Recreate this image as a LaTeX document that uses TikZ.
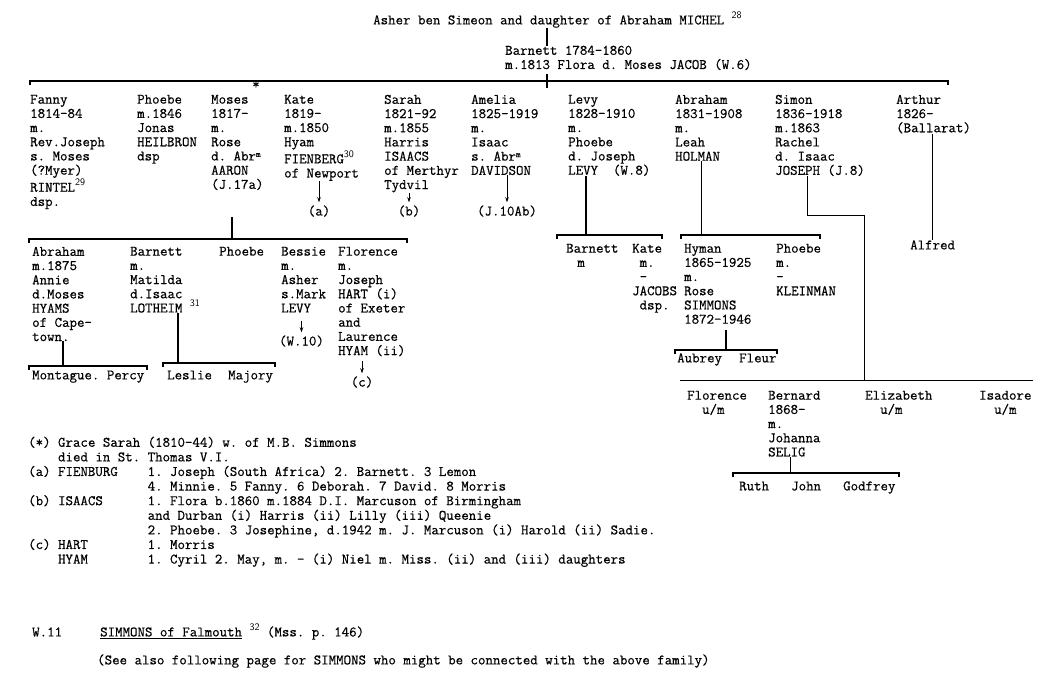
\documentclass[tikz,border=0pt]{standalone}
\usepackage{fontspec}
\setmonofont{Latin Modern Mono}[FakeBold=0.5]
\usetikzlibrary{arrows.meta}

\newcommand{\pad}[1]{\hspace*{#1\fontcharwd\font`\x}}
\newcommand{\fnum}[1]{\raisebox{6pt}{\fontsize{10}{10}\selectfont\sffamily #1}}
\newcommand{\supm}{\raisebox{3.5pt}{\fontsize{9}{9}\selectfont m}}

\tikzset{
  entry/.style={anchor=north west, align=left, inner sep=0pt,
    font=\ttfamily\fontsize{14.5}{14.2}\selectfont\frenchspacing},
  oneline/.style={entry, anchor=base west},
  tag/.style={entry, anchor=base},
  notes/.style={entry, font=\ttfamily\fontsize{14.5}{14.6}\selectfont\frenchspacing},
  famline/.style={line width=1.3pt},
  thinline/.style={line width=0.8pt},
  mainbar/.style={line width=1.8pt},
  down/.style={-{Stealth[length=5pt,width=3.5pt]}, line width=0.6pt, shorten >=3pt},
}

\begin{document}
\begin{tikzpicture}[x=1pt,y=-1pt]
  \useasboundingbox[fill=white] (0,0) rectangle (1041,680);
  \coordinate (fork0) at (547,81);
  \coordinate (mainL) at (30,81);
  \coordinate (mainR) at (948,81);
  \coordinate (mosestop) at (232,217);
  \coordinate (mosesfork) at (232,239);
  \coordinate (mbL) at (29,239);
  \coordinate (mbR) at (407,239);
  \coordinate (montfork) at (63,366);
  \coordinate (montL) at (29,366);
  \coordinate (montR) at (147,366);
  \coordinate (lesfork) at (178,363);
  \coordinate (lesL) at (163,363);
  \coordinate (lesR) at (275,363);
  \coordinate (levyfork) at (586,235);
  \coordinate (lvL) at (557,235);
  \coordinate (lvR) at (662,235);
  \coordinate (abrfork) at (701,235);
  \coordinate (abL) at (681,235);
  \coordinate (abR) at (820,235);
  \coordinate (aubfork) at (726,350);
  \coordinate (auL) at (675,350);
  \coordinate (auR) at (777,350);
  \coordinate (simA) at (807,215);
  \coordinate (simB) at (864,215);
  \coordinate (simfork) at (864,380);
  \coordinate (siL) at (680,380);
  \coordinate (siR) at (1033,380);
  \coordinate (rjfork) at (790,473);
  \coordinate (rjL) at (733,473);
  \coordinate (rjR) at (899,473);

  % parents
  \node[oneline] (title) at (373,24.4) {Asher ben Simeon and daughter of Abraham MICHEL~\fnum{28}};
  \node[entry] (barnett) at (505,45.5) {Barnett 1784-1860\\m.1813 Flora d. Moses JACOB (W.6)};
  \draw[famline] (title.south -| fork0) -- (barnett.north -| fork0);
  \draw[famline] ([yshift=7pt]fork0) -- ([yshift=-7pt]fork0);
  \draw[mainbar] ([yshift=-4pt]mainL) -- (mainL) -- (mainR) -- ([yshift=-4pt]mainR);
  \node[entry, anchor=center, font=\ttfamily\bfseries\Large] (moseskid) at (256,85) {*};

  % children of Barnett
  \node[entry] (fanny) at (30,94.6) {Fanny\\1814-84\\m.\\Rev.Joseph\\s. Moses\\(?Myer)\\RINTEL\fnum{29}\\dsp.};
  \node[entry] (phoebe) at (137,94.6) {Phoebe\\m.1846\\Jonas\\HEILBRON\\dsp};
  \node[entry] (moses) at (211,94.6) {Moses\\1817-\\m.\\Rose\\d. Abr\supm\\AARON\\(J.17a)};
  \node[entry] (kate) at (284,94.6) {Kate\\1819-\\m.1850\\Hyam\\FIENBERG\fnum{30}\\of Newport};
  \node[entry] (sarah) at (384,94.6) {Sarah\\1821-92\\m.1855\\Harris\\ISAACS\\of Merthyr\\Tydvil};
  \node[entry] (amelia) at (471,94.6) {Amelia\\1825-1919\\m.\\Isaac\\s. Abr\supm\\DAVIDSON};
  \node[entry] (levy) at (568,94.6) {Levy\\1828-1910\\m.\\Phoebe\\d. Joseph\\LEVY\pad{2}(W.8)};
  \node[entry] (abraham) at (675,94.6) {Abraham\\1831-1908\\m.\\Leah\\HOLMAN};
  \node[entry] (simon) at (775,94.6) {Simon\\1836-1918\\m.1863\\Rachel\\d. Isaac\\JOSEPH (J.8)};
  \node[entry] (arthur) at (896,94.6) {Arthur\\1826-\\(Ballarat)};

  \node[tag] (capa) at (319,215.5) {(a)};
  \node[tag] (capb) at (409,215.5) {(b)};
  \node[tag] (capj) at (507,215.5) {(J.10Ab)};
  \draw[down] (kate.south -| capa.north) -- (capa.north);
  \draw[down] (sarah.south -| capb.north) -- (capb.north);
  \draw[down] (amelia.south -| capj.north) -- (capj.north);

  % Moses
  \draw[famline] (mosestop) -- (mosesfork);
  \node[entry] (abrahamB) at (32,246.6) {Abraham\\m.1875\\Annie\\d.Moses\\HYAMS\\of Cape-\\town.};
  \node[entry] (barnettB) at (130,246.6) {Barnett\\m.\\Matilda\\d.Isaac\\LOTHEIM~\fnum{31}};
  \node[entry] (phoebeB) at (219,246.6) {Phoebe};
  \node[entry] (bessie) at (281,246.6) {Bessie\\m.\\Asher\\s.Mark\\LEVY};
  \node[entry] (florence) at (338,246.6) {Florence\\m.\\Joseph\\HART (i)\\of Exeter\\and\\Laurence\\HYAM (ii)};
  \node[tag] (w10) at (301.5,345.5) {(W.10)};
  \node[tag] (capc) at (362,386.5) {(c)};
  \draw[down, shorten <=8pt] (bessie.south -| w10.north) -- (w10.north);
  \draw[down, shorten <=5pt] (florence.south -| capc.north) -- (capc.north);

  \draw[famline] (abrahamB.south -| montfork) -- (montfork);
  \node[oneline] (montague) at (32,379.4) {Montague. Percy};
  \draw[famline] (barnettB.south -| lesfork) -- (lesfork);
  \node[oneline] (leslie) at (167,379.4) {Leslie};
  \node[oneline] (majory) at (228,379.4) {Majory};

  % Levy
  \draw[famline] (levy.south -| levyfork) -- (levyfork);
  \node[entry] (barnettC) at (566,243.6) {Barnett\\\pad{1.5}m};
  \node[entry] (kateC) at (632,243.6) {Kate\\\pad{1}m.\\\pad{1}-\\JACOBS\\\pad{1}dsp.};

  % Abraham
  \draw[thinline] (abraham.south -| abrfork) -- (abrfork);
  \node[entry] (hyman) at (684,243.6) {Hyman\\1865-1925\\m.\\Rose\\SIMMONS\\1872-1946};
  \node[entry] (phoebeC) at (776,243.6) {Phoebe\\m.\\-\\KLEINMAN};
  \draw[famline, shorten <=6pt] (hyman.south -| aubfork) -- (aubfork);
  \node[oneline] (aubrey) at (677,362.4) {Aubrey};
  \node[oneline] (fleur) at (739,362.4) {Fleur};

  % Simon
  \draw[thinline] (simon.south -| simA) -- (simA) -- (simB) -- (simfork);
  \draw[thinline] (siL) -- (siR);
  \node[entry] (florenceC) at (687,390.6) {Florence\\\pad{2}u/m};
  \node[entry] (bernard) at (768,390.6) {Bernard\\1868-\\m.\\Johanna\\SELIG};
  \node[entry] (elizabeth) at (865,390.6) {Elizabeth\\\pad{2}u/m};
  \node[entry] (isadore) at (979,390.6) {Isadore\\\pad{2}u/m};
  \draw[thinline] (bernard.south -| rjfork) -- (rjfork);
  \node[oneline] (ruth) at (739,490.4) {Ruth};
  \node[oneline] (john) at (791,490.4) {John};
  \node[oneline] (godfrey) at (843,490.4) {Godfrey};

  % Arthur
  \node[oneline] (alfred) at (910,249.4) {Alfred};
  \draw[famline] (arthur.south -| alfred.north) -- (alfred.north);

  \foreach \l/\r in {mbL/mbR, montL/montR, lesL/lesR, lvL/lvR, abL/abR, auL/auR, rjL/rjR}
    \draw[famline] ([yshift=-4pt]\l) -- (\l) -- (\r) -- ([yshift=-4pt]\r);

  % notes
  \node[notes] (legend) at (28,436.5) {(*) Grace Sarah (1810-44) w. of M.B. Simmons\\
    \pad{4}died in St. Thomas V.I.\\
    (a) FIENBURG\pad{4}1. Joseph (South Africa) 2. Barnett. 3 Lemon\\
    \pad{16}4. Minnie. 5 Fanny. 6 Deborah. 7 David. 8 Morris\\
    (b) ISAACS\pad{6}1. Flora b.1860 m.1884 D.I. Marcuson of Birmingham\\
    \pad{16}and Durban (i) Harris (ii) Lilly (iii) Queenie\\
    \pad{16}2. Phoebe. 3 Josephine, d.1942 m. J. Marcuson (i) Harold (ii) Sadie.\\
    (c) HART\pad{8}1. Morris\\
    \pad{4}HYAM\pad{8}1. Cyril 2. May, m. - (i) Niel m. Miss. (ii) and (iii) daughters};

  \node[oneline] (wref) at (32,636.4) {W.11};
  \node[oneline] (simmons) at (100,636.4) {\underline{SIMMONS of Falmouth}~\fnum{32} (Mss. p. 146)};
  \node[oneline] (seealso) at (97,664.4) {(See also following page for SIMMONS who might be connected with the above family)};
\end{tikzpicture}
\end{document}
